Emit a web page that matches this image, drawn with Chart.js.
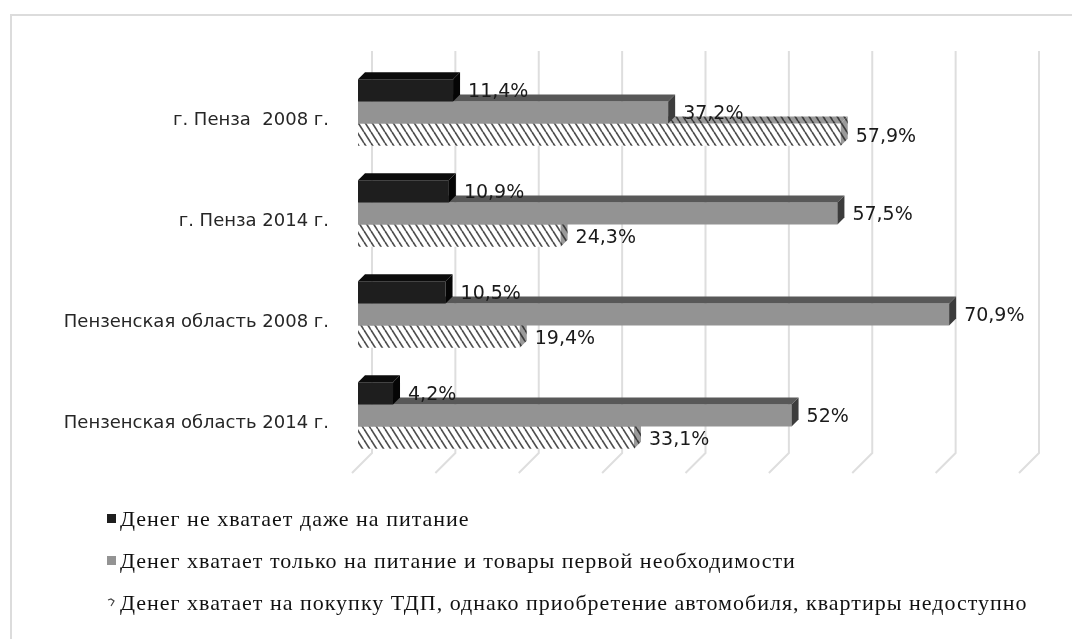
<!DOCTYPE html>
<html>
<head>
<meta charset="utf-8">
<script src="https://cdn.jsdelivr.net/npm/chart.js@4.4.0/dist/chart.umd.min.js"></script>
<style>
  html, body { margin: 0; padding: 0; background: #fff; overflow: hidden; }
  #wrap { position: relative; width: 1072px; height: 639px; }
  #frame { position: absolute; left: 10px; top: 14px; width: 1100px; height: 700px;
           border: 2px solid #dcdcdc; box-sizing: border-box; }
  #chart { position: absolute; left: 0; top: 0; }
  #legend { position: absolute; left: 107px; top: 498px; font-family: "Liberation Serif", serif;
            font-size: 22px; letter-spacing: 1px; color: #111; }
  #legend .item { height: 42px; line-height: 42px; white-space: nowrap; }
  #legend .item canvas { vertical-align: middle; margin-right: 4px; position: relative; top: -2px; }
</style>
</head>
<body>
<div id="wrap">
  <div id="frame"></div>
  <canvas id="chart" width="1072" height="639"></canvas>
  <div id="legend"></div>
</div>
<script>
const categories = ['г. Пенза  2008 г.', 'г. Пенза 2014 г.', 'Пензенская область 2008 г.', 'Пензенская область 2014 г.'];
const seriesNames = [
  'Денег не хватает даже на питание',
  'Денег хватает только на питание и товары первой необходимости',
  'Денег хватает на покупку ТДП, однако приобретение автомобиля, квартиры недоступно'
];
const notEvenFood = [11.4, 10.9, 10.5, 4.2];
const foodAndBasics = [37.2, 57.5, 70.9, 52];
const durablesOnly = [57.9, 24.3, 19.4, 33.1];
const xTicks = [0, 10, 20, 30, 40, 50, 60, 70, 80];

const depth = 7;

// diagonal hatch for the third series
function makeHatch(bg, fg) {
  const c = document.createElement('canvas');
  c.width = 7; c.height = 11;
  const g = c.getContext('2d');
  g.fillStyle = bg; g.fillRect(0, 0, 7, 11);
  g.strokeStyle = fg; g.lineWidth = 1.7;
  for (let k = -1; k <= 1; k++) {
    g.beginPath(); g.moveTo(k * 7, 0); g.lineTo(k * 7 + 7, 11); g.stroke();
  }
  return document.getElementById('chart').getContext('2d').createPattern(c, 'repeat');
}
const hatchFront = makeHatch('#ffffff', '#4e4e4e');
const hatchSide = makeHatch('#9a9a9a', '#3a3a3a');

const faces = [
  { top: '#0c0c0c', side: '#050505' },
  { top: '#585858', side: '#3c3c3c' },
  { top: hatchSide, side: hatchSide }
];

const backGrid = {
  id: 'backGrid',
  beforeDatasetsDraw(chart) {
    const { ctx, chartArea, scales: { x } } = chart;
    ctx.save();
    ctx.strokeStyle = '#dedede';
    ctx.lineWidth = 2;
    xTicks.forEach(v => {
      const px = x.getPixelForValue(v);
      ctx.beginPath();
      ctx.moveTo(px + 14, chartArea.top - 11);
      ctx.lineTo(px + 14, chartArea.bottom - 13);
      ctx.lineTo(px - 6, chartArea.bottom + 7);
      ctx.stroke();
    });
    ctx.restore();
  }
};

// top and side faces of each bar, after its own front face
const bars3d = {
  id: 'bars3d',
  afterDatasetDraw(chart, args) {
    const ctx = chart.ctx;
    const f = faces[args.index];
    args.meta.data.forEach(bar => {
      const { x, y, base, height } = bar.getProps(['x', 'y', 'base', 'height'], true);
      const top = y - height / 2, bottom = y + height / 2;
      ctx.save();
      ctx.fillStyle = f.top;
      ctx.beginPath();
      ctx.moveTo(base, top); ctx.lineTo(base + depth, top - depth);
      ctx.lineTo(x + depth, top - depth); ctx.lineTo(x, top);
      ctx.closePath(); ctx.fill();
      ctx.fillStyle = f.side;
      ctx.beginPath();
      ctx.moveTo(x, top); ctx.lineTo(x + depth, top - depth);
      ctx.lineTo(x + depth, bottom - depth); ctx.lineTo(x, bottom);
      ctx.closePath(); ctx.fill();
      ctx.restore();
    });
  }
};

const valueLabels = {
  id: 'valueLabels',
  afterDatasetsDraw(chart) {
    const ctx = chart.ctx;
    ctx.save();
    ctx.font = '19px "DejaVu Sans"';
    ctx.fillStyle = '#1a1a1a';
    ctx.textAlign = 'left';
    ctx.textBaseline = 'middle';
    chart.data.datasets.forEach((ds, i) => {
      chart.getDatasetMeta(i).data.forEach((bar, j) => {
        const txt = String(ds.data[j]).replace('.', ',') + '%';
        ctx.fillText(txt, bar.x + 15, bar.y + 2);
      });
    });
    ctx.restore();
  }
};

const chart = new Chart(document.getElementById('chart'), {
  type: 'bar',
  data: {
    labels: categories,
    datasets: [
      { label: seriesNames[0], data: notEvenFood, backgroundColor: '#1e1e1e' },
      { label: seriesNames[1], data: foodAndBasics, backgroundColor: '#939393' },
      { label: seriesNames[2], data: durablesOnly, backgroundColor: hatchFront }
    ]
  },
  options: {
    indexAxis: 'y',
    responsive: false,
    animation: false,
    layout: { padding: { left: 10, top: 62, right: 47, bottom: 173 } },
    datasets: { bar: { categoryPercentage: 0.66, barPercentage: 1 } },
    scales: {
      x: { display: false, min: 0, max: 80 },
      y: {
        grid: { display: false, drawTicks: false },
        border: { display: false },
        ticks: { padding: 29, labelOffset: 8, color: '#262626', font: { family: 'DejaVu Sans', size: 18 } },
        afterFit: s => { s.width = 348; }
      }
    },
    plugins: { legend: { display: false }, tooltip: { enabled: false } }
  },
  plugins: [backGrid, bars3d, valueLabels]
});

// legend, one item per line
const legendEl = document.getElementById('legend');
chart.data.datasets.forEach((ds, i) => {
  const row = document.createElement('div');
  row.className = 'item';
  const sw = document.createElement('canvas');
  sw.width = 9; sw.height = 9;
  const g = sw.getContext('2d');
  if (i < 2) {
    g.fillStyle = ds.backgroundColor; g.fillRect(0, 0, 9, 9);
  } else {
    g.strokeStyle = '#444'; g.lineWidth = 1.2;
    g.beginPath(); g.moveTo(1, 2); g.lineTo(4, 1); g.lineTo(7, 3); g.lineTo(4, 8); g.stroke();
  }
  row.appendChild(sw);
  row.appendChild(document.createTextNode(ds.label));
  legendEl.appendChild(row);
});
</script>
</body>
</html>
